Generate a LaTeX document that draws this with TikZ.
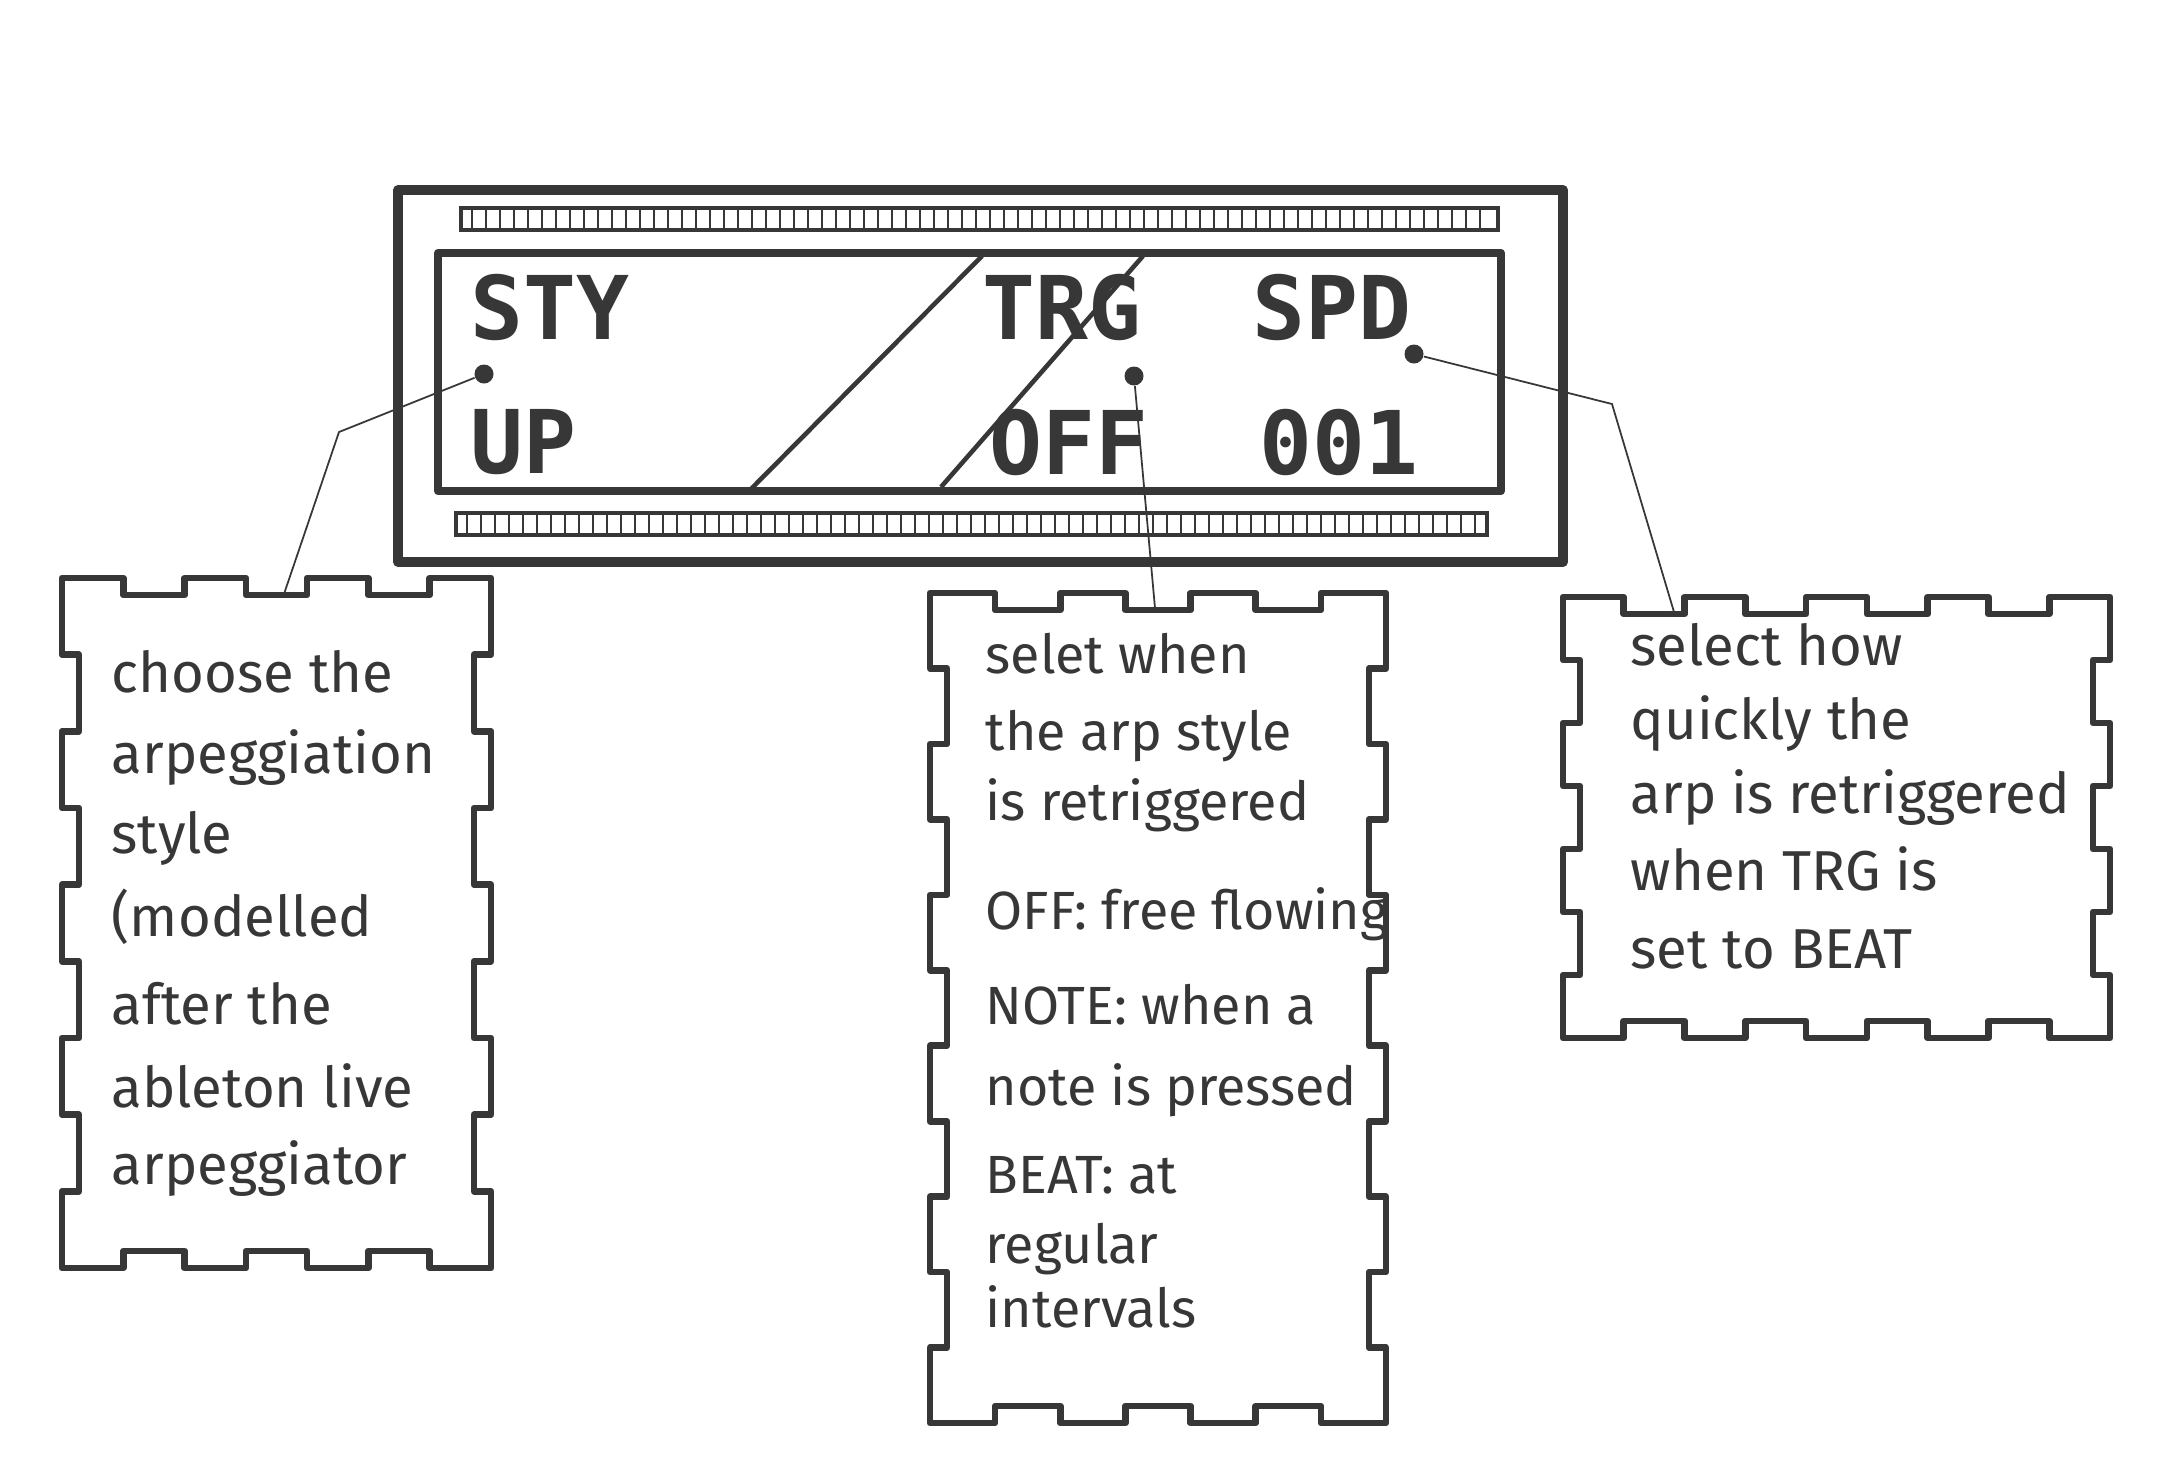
\documentclass[tikz,border=0pt]{standalone}
\usepackage{fontspec}
\setmainfont{Fira Sans}
\newfontfamily\lcdfont{DejaVu Sans Mono}
\usepackage{tikz}
\usetikzlibrary{positioning}
\definecolor{ink}{RGB}{55,55,55}

% depth of the finger joints
\newcommand{\tabd}{17}
% panel with finger joints: x0, y0, x1, y1, tabs across, tabs down
\newcommand{\tabbox}[6]{%
  \pgfmathsetmacro{\tw}{(#3-#1)/#5}%
  \pgfmathsetmacro{\th}{(#4-#2)/#6}%
  \draw[panel] (#1,#2)
    \foreach \i in {1,...,#5}{ -- ({#1+(\i-1)*\tw},{#2+mod(\i+1,2)*\tabd}) -- ({#1+\i*\tw},{#2+mod(\i+1,2)*\tabd}) }
    \foreach \i in {1,...,#6}{ -- ({#3-mod(\i+1,2)*\tabd},{#2+(\i-1)*\th}) -- ({#3-mod(\i+1,2)*\tabd},{#2+\i*\th}) }
    \foreach \i in {1,...,#5}{ -- ({#3-(\i-1)*\tw},{#4-mod(\i+1,2)*\tabd}) -- ({#3-\i*\tw},{#4-mod(\i+1,2)*\tabd}) }
    \foreach \i in {1,...,#6}{ -- ({#1+mod(\i+1,2)*\tabd},{#4-(\i-1)*\th}) -- ({#1+mod(\i+1,2)*\tabd},{#4-\i*\th}) }
    -- cycle;}

\begin{document}
\begin{tikzpicture}[
    x=0.01cm, y=-0.01cm,
    frame/.style={draw=ink, line width=2.8pt, line join=round},
    screen/.style={draw=ink, line width=2.3pt, line join=round},
    strip/.style={draw=ink, line width=1.3pt},
    tick/.style={draw=ink, line width=0.8pt},
    slash/.style={draw=ink, line width=1.3pt},
    lcd/.style={anchor=west, inner sep=0pt, text=ink, font=\lcdfont\bfseries\fontsize{25}{30}\selectfont},
    knob/.style={circle, fill=ink, inner sep=0pt, minimum size=0.19cm},
    panel/.style={draw=ink, line width=1.9pt, line join=round},
    note/.style={align=left, anchor=north west, inner sep=0pt, text=ink, font=\fontsize{16}{22.8}\selectfont},
    lead/.style={draw=ink, line width=0.5pt}
]
\useasboundingbox[fill=white] (0,0) rectangle (2169,1468);

% Display housing
\draw[frame] (398,190) rectangle (1563,562);
\draw[strip] (461,208) rectangle (1498,230);
\foreach \x in {472,486,...,1490} \draw[tick] (\x,210) -- (\x,228);
\draw[strip] (456,513) rectangle (1487,535);
\foreach \x in {467,481,...,1480} \draw[tick] (\x,515) -- (\x,533);

% Screen
\draw[screen] (438,253) rectangle (1501,491);
\draw[slash] (982,256) -- (751,489);
\draw[slash] (1143,256) -- (941,487);

% Screen labels
\node[lcd] (sty) at (470,307) {STY};
\node[lcd] (up) at (470,442) {UP};
\node[lcd] (trg) at (982,307) {TRG};
\node[lcd] (off) at (989,442) {OFF};
\node[lcd] (spd) at (1252,307) {SPD};
\node[lcd] (speed) at (1259,442) {001};

% Knobs
\node[knob] (styDot) at (484,374) {};
\node[knob] (trgDot) at (1134,376) {};
\node[knob] (spdDot) at (1414,354) {};

% Panels
\tabbox{62}{578}{491}{1268}{7}{9}
\tabbox{930}{593}{1386}{1423}{7}{11}
\tabbox{1563}{597}{2110}{1038}{9}{7}

% Panel texts
\node[note] (styNote) at (111,650) {choose the\\arpeggiation\\style\\[1pt](modelled\\[2pt]after the\\[1pt]ableton live\\[-1pt]arpeggiator};
\node[note, font=\fontsize{15.3}{20}\selectfont] (trgNote) at (985,632) {selet when\\[2pt]the arp style\\is retriggered\\[11pt]OFF: free flowing\\[7pt]NOTE: when a\\[3pt]note is pressed\\[5pt]BEAT: at\\regular\\[-2pt]intervals};
\node[note, font=\fontsize{16}{21}\selectfont] (spdNote) at (1630,623) {select how\\quickly the\\arp is retriggered\\[1pt]when TRG is\\[1pt]set to BEAT};

% Leads from knobs to panels
\coordinate (styBend) at (339,432);
\coordinate (styTop) at (284,594);
\coordinate (trgTop) at (1155,608);
\coordinate (spdBend) at (1612,404);
\coordinate (spdTop) at (1674,612);
\draw[lead] (styDot) -- (styBend) -- (styTop);
\draw[lead] (trgDot) -- (trgTop);
\draw[lead] (spdDot) -- (spdBend) -- (spdTop);

\end{tikzpicture}
\end{document}
